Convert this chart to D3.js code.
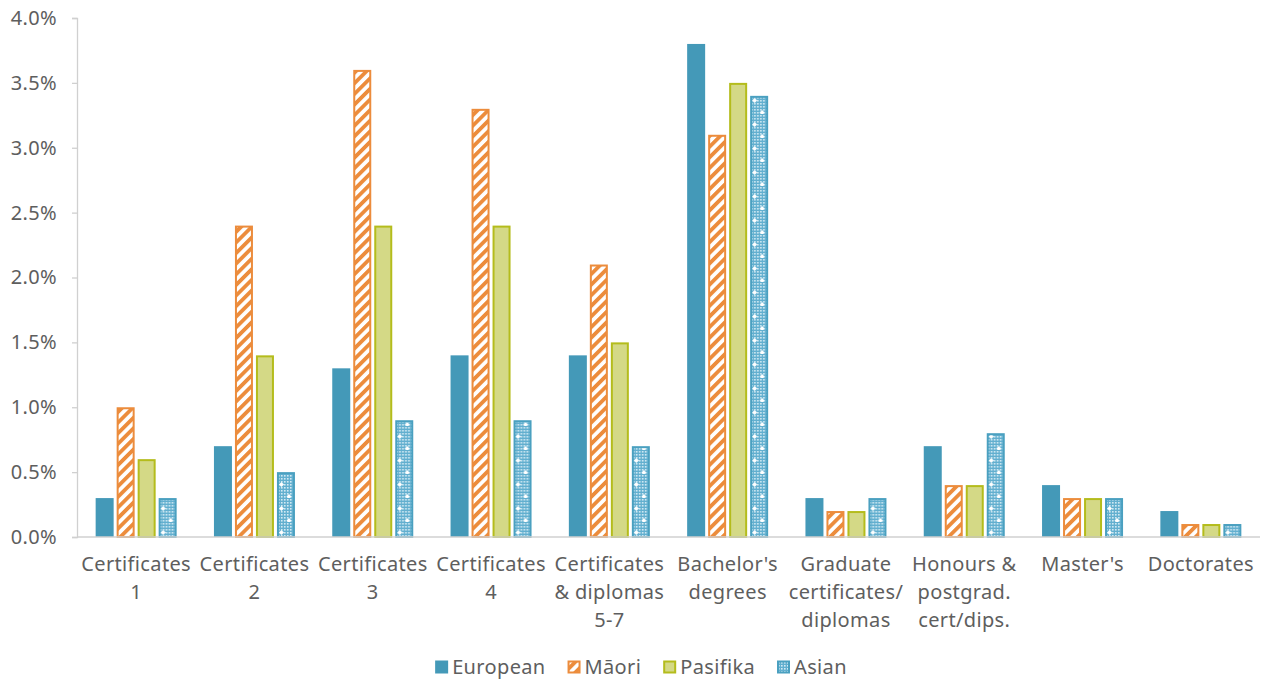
<!DOCTYPE html>
<html>
<head>
<meta charset="utf-8">
<script src="https://cdn.jsdelivr.net/npm/d3@7"></script>
<style>
  html, body { margin: 0; padding: 0; background: #fff; }
  svg { display: block; font-family: "Noto Sans", Lato, sans-serif; }
</style>
</head>
<body>
<svg id="chart" width="1261" height="684"></svg>
<script>
// Qualification categories (multi-line labels)
const categories = [
  ["Certificates", "1"],
  ["Certificates", "2"],
  ["Certificates", "3"],
  ["Certificates", "4"],
  ["Certificates", "& diplomas", "5-7"],
  ["Bachelor's", "degrees"],
  ["Graduate", "certificates/", "diplomas"],
  ["Honours &", "postgrad.", "cert/dips."],
  ["Master's"],
  ["Doctorates"]
];
const seriesNames = ["European", "Māori", "Pasifika", "Asian"];
// Values in percent
const european = [0.3, 0.7, 1.3, 1.4, 1.4, 3.8, 0.3, 0.7, 0.4, 0.2];
const maori    = [1.0, 2.4, 3.6, 3.3, 2.1, 3.1, 0.2, 0.4, 0.3, 0.1];
const pasifika = [0.6, 1.4, 2.4, 2.4, 1.5, 3.5, 0.2, 0.4, 0.3, 0.1];
const asian    = [0.3, 0.5, 0.9, 0.9, 0.7, 3.4, 0.3, 0.8, 0.3, 0.1];
const yTicks = [0, 0.5, 1.0, 1.5, 2.0, 2.5, 3.0, 3.5, 4.0];

const seriesValues = [european, maori, pasifika, asian];

const svg = d3.select("#chart");
const margin = { left: 77, right: 1, top: 18, bottom: 147 };
const W = 1261, H = 684;
const plotW = W - margin.left - margin.right;
const plotH = H - margin.top - margin.bottom;

const textColor = "#5e5e5e";
const axisColor = "#d0d0d0";
const fontSize = 20;
const letterSp = 0.35;

// Patterns
const defs = svg.append("defs");
const stripes = defs.append("pattern")
  .attr("id", "maoriStripes")
  .attr("patternUnits", "userSpaceOnUse")
  .attr("width", 7.5).attr("height", 7.5)
  .attr("patternTransform", "rotate(45)");
stripes.append("rect").attr("width", 7.5).attr("height", 7.5).attr("fill", "#fff");
stripes.append("rect").attr("width", 3.8).attr("height", 7.5).attr("fill", "#ec8c3c");

const dots = defs.append("pattern")
  .attr("id", "asianDots")
  .attr("patternUnits", "userSpaceOnUse")
  .attr("width", 3).attr("height", 3);
dots.append("rect").attr("width", 3).attr("height", 3).attr("fill", "#62afcf");
dots.append("rect").attr("x", 1).attr("y", 1).attr("width", 1.6).attr("height", 1.6).attr("fill", "#d4ebf4");

const sparkle = defs.append("pattern")
  .attr("id", "asianFill")
  .attr("patternUnits", "userSpaceOnUse")
  .attr("width", 15).attr("height", 24);
sparkle.append("rect").attr("width", 15).attr("height", 24).attr("fill", "url(#asianDots)");
sparkle.append("path").attr("d", "M7.5,8 l2.5,2.5 -2.5,2.5 -2.5,-2.5z").attr("fill", "#fff");
sparkle.append("path").attr("d", "M0,20 l2.5,2.5 -2.5,2.5 -2.5,-2.5z M15,20 l2.5,2.5 -2.5,2.5 -2.5,-2.5z").attr("fill", "#fff");

const styles = [
  { fill: "#4499b8", stroke: "#4499b8", sw: 0 },
  { fill: "url(#maoriStripes)", stroke: "#ec8c3c", sw: 2 },
  { fill: "#d4d986", stroke: "#b4bc1c", sw: 2 },
  { fill: "url(#asianFill)", stroke: "#4aa0c0", sw: 2 }
];

const g = svg.append("g").attr("transform", `translate(${margin.left},${margin.top})`);

const x0 = d3.scaleBand().domain(d3.range(categories.length)).range([0, plotW]).padding(0);
const barW = 18, barGap = 3;
const groupW = seriesNames.length * barW + (seriesNames.length - 1) * barGap;
const x1 = d3.scaleBand().domain(d3.range(seriesNames.length))
  .range([0, groupW]).paddingInner(barGap / (barW + barGap)).paddingOuter(0);
const y = d3.scaleLinear().domain([0, 4]).range([plotH, 0]);

// Y axis
const yAxis = g.append("g").call(
  d3.axisLeft(y).tickValues(yTicks).tickSize(5).tickPadding(15)
    .tickFormat(d => d.toFixed(1) + "%")
);
yAxis.select(".domain").attr("stroke", axisColor).attr("stroke-width", 1.3);
yAxis.selectAll(".tick line").attr("stroke", axisColor).attr("stroke-width", 1.3);
yAxis.selectAll(".tick text").attr("fill", textColor).attr("font-size", fontSize)
  .attr("letter-spacing", letterSp)
  .attr("font-family", "'Noto Sans', sans-serif");

// Bars
const groups = g.selectAll(".cat").data(categories).enter().append("g")
  .attr("transform", (d, i) => `translate(${x0(i) + (x0.bandwidth() - groupW) / 2},0)`);

seriesValues.forEach((vals, s) => {
  const st = styles[s];
  groups.append("rect")
    .attr("x", () => x1(s) + st.sw / 2)
    .attr("y", (d, i) => y(vals[i]) + st.sw / 2)
    .attr("width", x1.bandwidth() - st.sw)
    .attr("height", (d, i) => Math.max(0, y(0) - y(vals[i]) - st.sw / 2))
    .attr("fill", st.fill)
    .attr("stroke", st.sw ? st.stroke : "none")
    .attr("stroke-width", st.sw);
});

// X axis baseline
g.append("line").attr("x1", 0).attr("x2", plotW).attr("y1", y(0)).attr("y2", y(0))
  .attr("stroke", axisColor).attr("stroke-width", 1.6);

// Category labels
groups.each(function (lines, i) {
  const t = d3.select(this).append("text")
    .attr("x", groupW / 2)
    .attr("y", y(0) + 34)
    .attr("text-anchor", "middle")
    .attr("fill", textColor)
    .attr("letter-spacing", letterSp)
    .attr("font-size", fontSize);
  lines.forEach((ln, k) => {
    t.append("tspan").attr("x", groupW / 2).attr("dy", k === 0 ? 0 : 28).text(ln);
  });
});

// Legend, laid out from measured text widths and centred under the plot
const legend = svg.append("g").attr("transform", "translate(0,667)");
const swatch = 13, swGap = 4, itemGap = 22;
const items = seriesNames.map((name, i) => {
  const item = legend.append("g");
  const st = styles[i];
  item.append("rect")
    .attr("x", st.sw / 2).attr("y", -swatch / 2 + st.sw / 2)
    .attr("width", swatch - st.sw).attr("height", swatch - st.sw)
    .attr("fill", st.fill)
    .attr("stroke", st.sw ? st.stroke : "none")
    .attr("stroke-width", st.sw);
  const txt = item.append("text").attr("x", swatch + swGap).attr("y", 0).attr("dy", "0.35em")
    .attr("fill", textColor).attr("font-size", fontSize).attr("letter-spacing", letterSp).text(name);
  return { item, w: swatch + swGap + txt.node().getComputedTextLength() };
});
const totalW = d3.sum(items, d => d.w) + itemGap * (items.length - 1);
let lx = 641 - totalW / 2;
items.forEach(d => {
  d.item.attr("transform", `translate(${lx},0)`);
  lx += d.w + itemGap;
});
</script>
</body>
</html>
